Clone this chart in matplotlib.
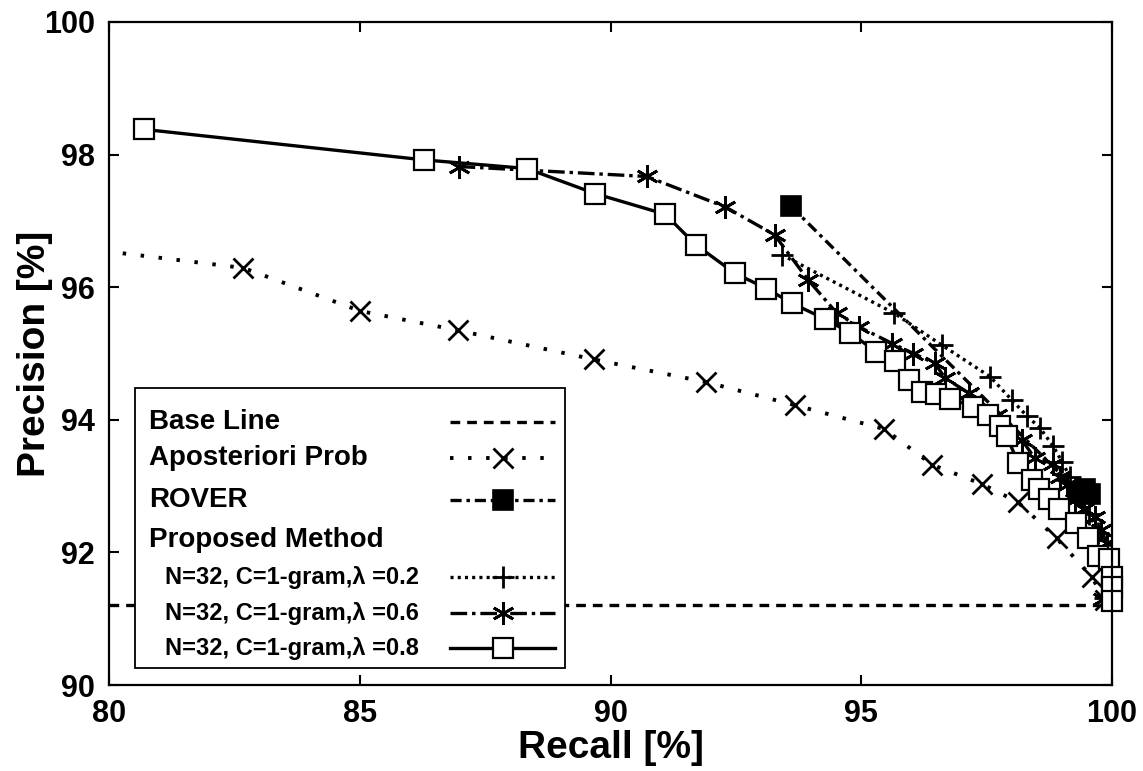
import matplotlib

matplotlib.use("Agg")
import matplotlib.pyplot as plt
from matplotlib.lines import Line2D

plt.rcParams["font.family"] = ["Liberation Sans", "DejaVu Sans"]
plt.rcParams["font.weight"] = "bold"
plt.rcParams["lines.scale_dashes"] = False

# Recall / precision operating points (%)
base_recall = [80.0, 99.75]
base_prec = [91.2, 91.2]

apost_recall = [79.2, 82.68, 85.01, 86.95, 89.67, 91.90, 93.68, 95.46, 96.42,
                97.41, 98.12, 98.90, 99.60, 99.85]
apost_prec = [96.61, 96.29, 95.64, 95.35, 94.91, 94.57, 94.22, 93.86, 93.32,
              93.03, 92.76, 92.21, 91.63, 91.28]

rover_recall = [93.60, 99.35, 99.47, 99.56]
rover_prec = [97.22, 92.90, 92.95, 92.88]

lam02_recall = [93.41, 95.65, 96.60, 97.57, 98.00, 98.30, 98.56, 98.83, 99.00,
                99.16, 99.35, 99.55, 99.72, 99.88, 99.95, 99.85]
lam02_prec = [96.49, 95.61, 95.13, 94.65, 94.30, 94.06, 93.88, 93.60, 93.37,
              93.14, 92.88, 92.58, 92.30, 92.05, 91.75, 91.32]

lam06_recall = [86.97, 90.72, 92.29, 93.27, 93.94, 94.51, 94.96, 95.62, 96.04,
                96.47, 96.67, 97.15, 97.70, 98.20, 98.46, 98.83, 98.97, 99.10,
                99.26, 99.45, 99.66, 99.79, 99.89, 99.95, 99.82]
lam06_prec = [97.82, 97.67, 97.21, 96.79, 96.11, 95.61, 95.40, 95.15, 95.00,
              94.85, 94.63, 94.40, 94.08, 93.70, 93.42, 93.34, 93.14, 93.02,
              92.79, 92.66, 92.54, 92.34, 92.14, 91.85, 91.30]

lam08_recall = [80.70, 86.28, 88.33, 89.70, 91.09, 91.70, 92.48, 93.11, 93.61,
                94.28, 94.78, 95.29, 95.67, 95.95, 96.22, 96.49, 96.77, 97.23,
                97.53, 97.77, 97.90, 98.13, 98.40, 98.55, 98.74, 98.95, 99.28,
                99.52, 99.72, 99.93, 99.99, 100.0, 100.0]
lam08_prec = [98.38, 97.92, 97.79, 97.41, 97.10, 96.64, 96.21, 95.98, 95.76,
              95.52, 95.31, 95.03, 94.88, 94.60, 94.42, 94.39, 94.32, 94.20,
              94.07, 93.90, 93.75, 93.35, 93.09, 92.96, 92.80, 92.65, 92.45,
              92.21, 91.94, 91.90, 91.63, 91.48, 91.26]

legend_labels = ["Base Line", "Aposteriori Prob", "ROVER", "Proposed Method",
                 "N=32, C=1-gram,\u03bb =0.2", "N=32, C=1-gram,\u03bb =0.6",
                 "N=32, C=1-gram,\u03bb =0.8"]

styles = {
    "base": dict(color="black", lw=2.4, dashes=(7, 5), marker=None),
    "apost": dict(color="black", lw=2.8, dashes=(2.5, 10.5), marker="x",
                  ms=14, mew=2.0),
    "rover": dict(color="black", lw=2.4, dashes=(8, 3.5, 2.5, 3.5), marker="s",
                  ms=14, mfc="black", mec="black", mew=1.2),
    "l02": dict(color="black", lw=2.4, dashes=(2.2, 3.0), marker="+",
                ms=16, mew=2.0),
    "l06": dict(color="black", lw=2.4, dashes=(12, 3.5, 2.5, 3.5),
                marker=(6, 2, 0), ms=16, mew=2.0),
    "l08": dict(color="black", lw=2.4, linestyle="-", marker="s", ms=14,
                mfc="white", mec="black", mew=1.6),
}

fig = plt.figure(figsize=(11.43, 7.71), dpi=100)
ax = fig.add_axes([0.0954, 0.1115, 0.8775, 0.86])

ax.plot(base_recall, base_prec, **styles["base"])
ax.plot(apost_recall, apost_prec, **styles["apost"])
ax.plot(rover_recall, rover_prec, clip_on=False, **styles["rover"])
ax.plot(lam02_recall, lam02_prec, **styles["l02"])
ax.plot(lam06_recall, lam06_prec, **styles["l06"])
ax.plot(lam08_recall, lam08_prec, clip_on=False, **styles["l08"])

ax.set_xlim(80, 100)
ax.set_ylim(90, 100)
ax.set_xticks([80, 85, 90, 95, 100])
ax.set_yticks([90, 92, 94, 96, 98, 100])
ax.tick_params(direction="in", length=7, width=1.5, top=True, right=True,
               labelsize=22, pad=10)
for sp in ax.spines.values():
    sp.set_linewidth(1.6)
ax.set_xlabel("Recall [%]", fontsize=28, fontweight="bold")
ax.set_ylabel("Precision [%]", fontsize=28, fontweight="bold")
ax.xaxis.set_label_coords(0.5, -0.068)
ax.yaxis.set_label_coords(-0.056, 0.5)

# legend box, gnuplot style: text left, sample on the right
box_x0, box_x1, box_y0, box_y1 = 0.026, 0.4546, 0.0256, 0.448
ax.add_patch(plt.Rectangle((box_x0, box_y0), box_x1 - box_x0, box_y1 - box_y0,
                           transform=ax.transAxes, fill=True, fc="white",
                           ec="black", lw=1.3, zorder=10))
row_y = [0.3967, 0.3424, 0.279, 0.2187, 0.1629, 0.1086, 0.0558]
row_style = ["base", "apost", "rover", None, "l02", "l06", "l08"]
sx0, sx1, smid = 0.34, 0.4447, 0.393
for lab, yy, key in zip(legend_labels, row_y, row_style):
    sub = lab.startswith("N=")
    ax.text(0.0558 if sub else 0.0399, yy, lab, transform=ax.transAxes,
            fontsize=17 if sub else 20, fontweight="bold", va="center",
            ha="left", zorder=11)
    if key is None:
        continue
    st = dict(styles[key])
    mk = {k: st.pop(k) for k in ["marker", "ms", "mfc", "mec", "mew"] if k in st}
    ax.add_line(Line2D([sx0, sx1], [yy, yy], transform=ax.transAxes,
                       zorder=11, **st))
    if mk.get("marker") is not None:
        ax.add_line(Line2D([smid], [yy], transform=ax.transAxes, linestyle="none",
                           color="black", zorder=12, **mk))

fig.savefig("out.png", dpi=100)
